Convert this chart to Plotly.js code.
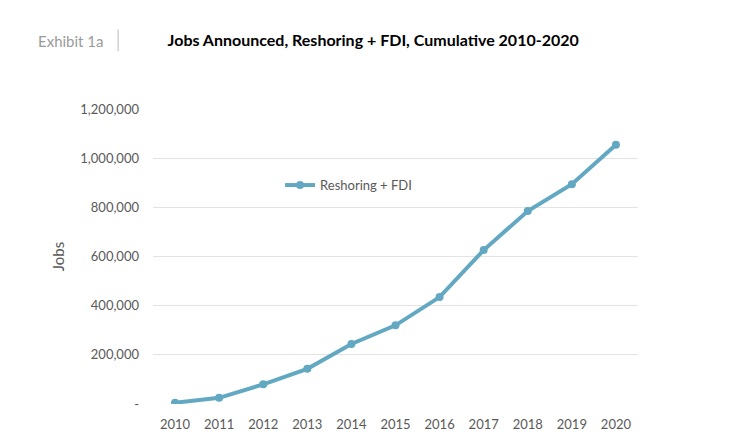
<!DOCTYPE html>
<html>
<head>
<meta charset="utf-8">
<script src="https://cdn.plot.ly/plotly-3.0.1.min.js"></script>
<style>html,body{margin:0;padding:0;background:#fff;}#chart{width:746px;height:448px;}</style>
</head>
<body>
<div id="chart"></div>
<script>
var years = ['2010','2011','2012','2013','2014','2015','2016','2017','2018','2019','2020'];
var jobs = [5000, 25000, 80000, 143000, 244000, 320000, 435000, 626000, 785000, 894000, 1055000];
var seriesName = 'Reshoring + FDI';
var yTickVals = [0, 200000, 400000, 600000, 800000, 1000000, 1200000];
var yTickText = ['-', '200,000', '400,000', '600,000', '800,000', '1,000,000', '1,200,000'];

var lineColor = '#62a8c3';
var grey = '#595959';
var font = 'Lato, "Open Sans", sans-serif';

var trace = {
  x: years, y: jobs, name: seriesName, type: 'scatter', mode: 'lines+markers',
  line: {color: lineColor, width: 4},
  marker: {color: lineColor, size: 8},
  showlegend: true
};

var layout = {
  width: 746, height: 448,
  margin: {l: 153, r: 108, t: 109, b: 44},
  paper_bgcolor: '#fff', plot_bgcolor: '#fff',
  font: {family: font, color: grey, size: 13},
  title: {text: '<b>Jobs Announced, Reshoring + FDI, Cumulative 2010-2020</b>',
          font: {family: font, size: 16, color: '#000'},
          x: 0.454, xref: 'paper', xanchor: 'center', y: 0.91, yref: 'container', yanchor: 'middle'},
  xaxis: {type: 'category', range: [-0.5, 10.5], showgrid: false, zeroline: false,
          showline: false, ticks: '', ticklabelstandoff: 11, tickfont: {size: 13, color: grey}, fixedrange: true},
  yaxis: {range: [0, 1200000], tickvals: yTickVals, ticktext: yTickText,
          showgrid: true, gridcolor: '#e3e3e3', gridwidth: 1, zeroline: false, showline: false,
          ticks: '', ticklen: 0, ticklabelstandoff: 13, tickfont: {size: 13, color: grey},
          title: {text: 'Jobs', font: {size: 15, color: grey}, standoff: 12}},
  legend: {x: 0.262, xanchor: 'left', y: 0.742, yanchor: 'middle', bgcolor: 'rgba(0,0,0,0)',
           font: {size: 13, color: grey}},
  annotations: [
    {text: 'Exhibit 1a', xref: 'paper', yref: 'paper', x: -0.242, y: 1.232, xanchor: 'left', yanchor: 'middle',
     showarrow: false, font: {size: 15, color: '#9a9a9a'}}
  ],
  shapes: [
    {type: 'line', xref: 'paper', yref: 'paper', x0: -0.072, x1: -0.072, y0: 1.196, y1: 1.27,
     line: {color: '#bbbbbb', width: 1}}
  ]
};

Plotly.newPlot('chart', [trace], layout, {displayModeBar: false, staticPlot: true});
</script>
</body>
</html>
